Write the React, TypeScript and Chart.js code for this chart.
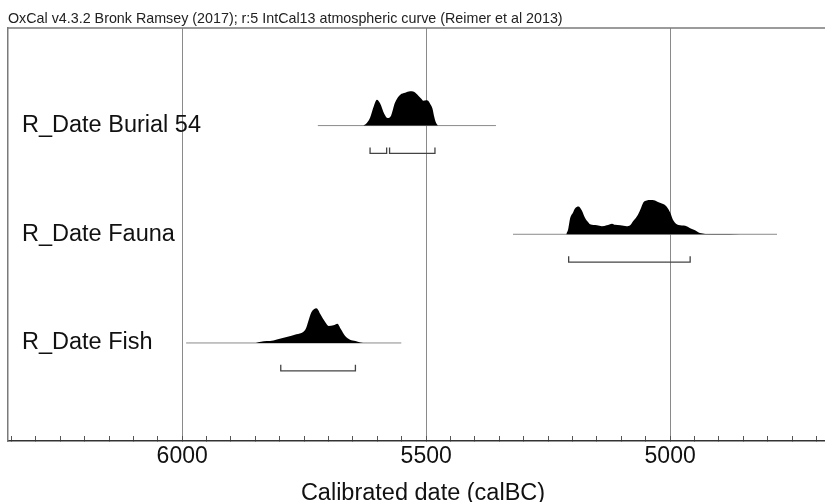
import React, { useEffect, useRef } from 'react';
import { Chart, registerables } from 'chart.js';

Chart.register(...registerables);

// ---- data ----
const CHART_TITLE = 'OxCal v4.3.2 Bronk Ramsey (2017); r:5 IntCal13 atmospheric curve (Reimer et al 2013)';
const AXIS_TITLE = 'Calibrated date (calBC)';
const ROW_LABELS = ['R_Date Burial 54', 'R_Date Fauna', 'R_Date Fish'];
const TICK_LABEL_VALUES = [6000, 5500, 5000];
const MINOR_TICK_STEP = 50;
const X_MIN = 4656;
const X_MAX = 6357;

// Burial 54 posterior (calBC, relative probability)
const burialYears = [5629, 5625, 5615, 5607, 5601, 5594, 5586, 5579, 5572, 5564, 5553, 5543, 5533, 5525, 5516, 5510, 5506, 5500, 5496, 5492, 5487, 5484, 5480, 5476];
const burialProb = [0, 1, 8, 20, 26, 22, 12, 7.7, 10, 23, 31, 33, 34.5, 34, 30, 27, 25, 25.5, 25, 22, 17, 10, 3, 0];
const burialRange = [5722, 5357];
const burialHpd = [[5615, 5581], [5575, 5482]];

// Fauna
const faunaYears = [5213, 5209, 5205, 5199, 5195, 5188, 5181, 5174, 5168, 5164, 5150, 5140, 5130, 5119, 5113, 5102, 5089, 5082, 5076, 5068, 5061, 5055, 5048, 5041, 5031, 5025, 5017, 5012, 5007, 5000, 4993, 4983, 4969, 4959, 4949, 4939, 4928, 4898, 4857, 4846];
const faunaProb = [0, 5, 16, 22, 26, 28, 24, 16, 12, 10, 9, 8, 9, 10.7, 9.5, 9, 8, 9, 13, 18, 25, 32, 34, 34.5, 34, 32.5, 31, 30, 27.7, 22, 13.5, 9.3, 8.5, 6, 4, 1.2, 0.4, 0.2, 0.15, 0];
const faunaRange = [5322, 4781];
const faunaHpd = [[5208, 4959]];

// Fish
const fishYears = [5850, 5844, 5833, 5820, 5806, 5786, 5766, 5752, 5746, 5742, 5735, 5730, 5725, 5721, 5717, 5707, 5700, 5690, 5682, 5675, 5666, 5656, 5645, 5635, 5629];
const fishProb = [0, 0.8, 1.8, 2, 3.5, 6, 8.7, 11, 15, 21, 31, 34, 35, 33, 29, 21, 17, 17.7, 19.3, 14, 7, 3.3, 2, 0.5, 0];
const fishRange = [5992, 5551];
const fishHpd = [[5798, 5645]];

const SERIES = [
  { years: burialYears, prob: burialProb, range: burialRange, hpd: burialHpd },
  { years: faunaYears, prob: faunaProb, range: faunaRange, hpd: faunaHpd },
  { years: fishYears, prob: fishProb, range: fishRange, hpd: fishHpd },
];

// ---- style ----
const FONT = "'Liberation Sans', Arial, Helvetica, sans-serif";
const ROW_PX = 109.25;            // pixel spacing between rows
const Y_MIN = -0.897;
const Y_MAX = 2.902;
const PROB_SCALE = 1 / ROW_PX;     // relative probability -> row units
const BRACKET_OFFSET = 28 / ROW_PX;
const BRACKET_TICK = 6 / ROW_PX;

function buildDatasets() {
  const ds: any[] = [];
  SERIES.forEach((s, row) => {
    ds.push({
      type: 'line',
      data: s.years.map((yr, i) => ({ x: yr, y: row - s.prob[i] * PROB_SCALE })),
      borderColor: '#000',
      borderWidth: 0,
      backgroundColor: '#000',
      fill: { value: row },
      pointRadius: 0,
      cubicInterpolationMode: 'monotone',
      order: 1,
    });
    ds.push({
      type: 'line',
      data: [{ x: s.range[0], y: row }, { x: s.range[1], y: row }],
      borderColor: '#8a8a8a',
      borderWidth: 1,
      pointRadius: 0,
      fill: false,
      order: 2,
    });
    s.hpd.forEach(([a, b]) => {
      const yb = row + BRACKET_OFFSET;
      ds.push({
        type: 'line',
        data: [
          { x: a, y: yb - BRACKET_TICK },
          { x: a, y: yb },
          { x: b, y: yb },
          { x: b, y: yb - BRACKET_TICK },
        ],
        borderColor: '#444',
        borderWidth: 1.3,
        pointRadius: 0,
        fill: false,
        tension: 0,
        order: 0,
      });
    });
  });
  return ds;
}

const topFrame = {
  id: 'topFrame',
  afterDraw(chart: any) {
    const { ctx, chartArea } = chart;
    ctx.save();
    ctx.strokeStyle = '#7a7a7a';
    ctx.lineWidth = 1.5;
    ctx.beginPath();
    ctx.moveTo(chartArea.left, chartArea.top);
    ctx.lineTo(chartArea.right, chartArea.top);
    ctx.stroke();
    ctx.restore();
  },
};

export default function App() {
  const ref = useRef<HTMLCanvasElement | null>(null);

  useEffect(() => {
    if (!ref.current) return;
    const minorTicks: number[] = [];
    for (let v = Math.ceil(X_MIN / MINOR_TICK_STEP) * MINOR_TICK_STEP; v <= X_MAX; v += MINOR_TICK_STEP) minorTicks.push(v);

    const chart = new Chart(ref.current, {
      type: 'line',
      data: { datasets: buildDatasets() },
      plugins: [topFrame],
      options: {
        responsive: false,
        animation: false,
        devicePixelRatio: 1,
        layout: { padding: { left: 8, top: 0, right: 0, bottom: 0 } },
        plugins: {
          legend: { display: false },
          tooltip: { enabled: false },
          title: {
            display: true,
            text: CHART_TITLE,
            align: 'start',
            color: '#222',
            font: { family: FONT, size: 14.3, weight: 'normal', lineHeight: 1.2 },
            padding: { top: 9, bottom: 0 },
          },
        },
        scales: {
          x: {
            type: 'linear',
            reverse: true,
            min: X_MIN,
            max: X_MAX,
            afterBuildTicks: (axis: any) => {
              axis.ticks = minorTicks.map((v) => ({ value: v }));
            },
            afterFit: (scale: any) => {
              scale.height = 61;
            },
            ticks: {
              autoSkip: false,
              maxRotation: 0,
              padding: 7,
              color: '#111',
              font: { family: FONT, size: 23 },
              callback: (v: any) => (TICK_LABEL_VALUES.includes(Number(v)) ? String(v) : ''),
            },
            grid: {
              color: (ctx: any) => (ctx.tick && TICK_LABEL_VALUES.includes(ctx.tick.value) ? '#8a8a8a' : 'rgba(0,0,0,0)'),
              lineWidth: 1,
              tickLength: -5,
              tickColor: '#555',
              tickWidth: 1,
            },
            border: { display: true, color: '#333', width: 1.5 },
            title: {
              display: true,
              text: AXIS_TITLE,
              color: '#111',
              font: { family: FONT, size: 23.5, lineHeight: 0.71 },
              padding: { top: 0, bottom: 0 },
            },
          },
          y: {
            type: 'linear',
            reverse: true,
            min: Y_MIN,
            max: Y_MAX,
            afterBuildTicks: (axis: any) => {
              axis.ticks = ROW_LABELS.map((_, i) => ({ value: i }));
            },
            afterFit: (scale: any) => {
              scale.width = 0;
            },
            ticks: {
              mirror: true,
              padding: 14,
              color: '#111',
              font: { family: FONT, size: 23.5 },
              callback: (v: any) => ROW_LABELS[Number(v)] ?? '',
            },
            grid: { display: false, drawTicks: false },
            border: { display: true, color: '#7a7a7a', width: 1.5 },
          },
        },
      } as any,
    });
    return () => chart.destroy();
  }, []);

  return (
    <div style={{ position: 'fixed', left: 0, top: 0, width: 825, height: 502, overflow: 'hidden', background: '#fff' }}>
      <canvas ref={ref} width={838} height={502} style={{ display: 'block' }} />
    </div>
  );
}
